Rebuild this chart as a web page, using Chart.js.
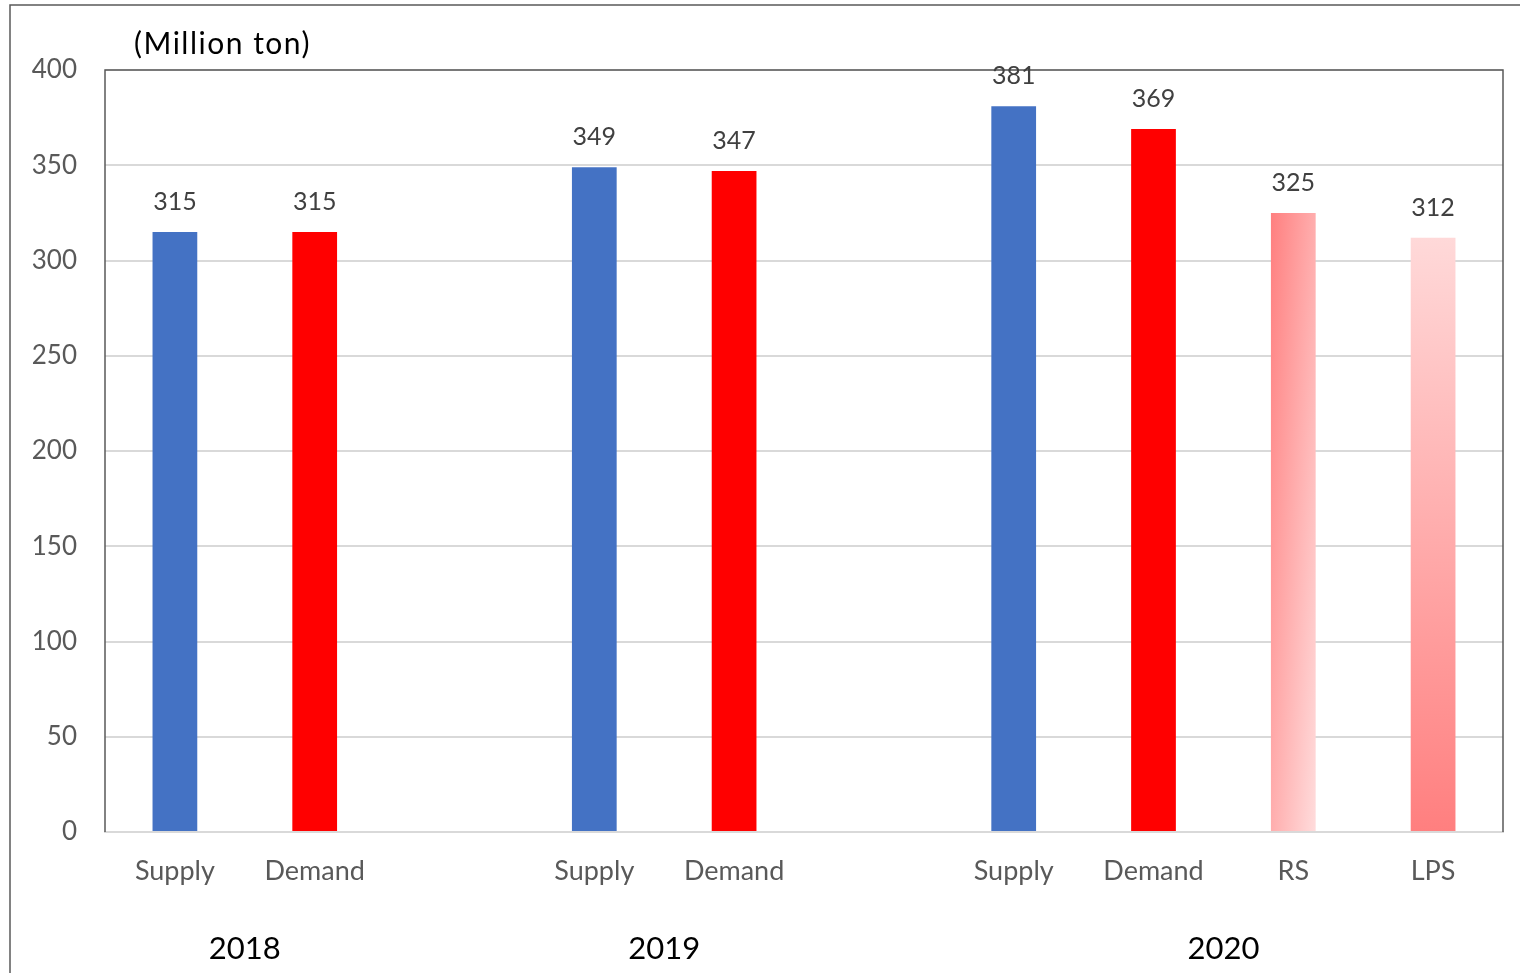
<!DOCTYPE html>
<html>
<head>
  <title>Supply and Demand</title>
  <script src="https://cdn.jsdelivr.net/npm/chart.js"></script>
  <style>
    body { margin: 0; background: #fff; }
    #wrap { width: 1520px; height: 973px; position: relative; }
  </style>
</head>
<body>
  <div id="wrap"><canvas id="myChart"></canvas></div>

  <script>
    // data
    const categories = ['Supply', 'Demand', '', 'Supply', 'Demand', '', 'Supply', 'Demand', 'RS', 'LPS'];
    const values = [315, 315, null, 349, 347, null, 381, 369, 325, 312];
    const years = ['2018', '2019', '2020'];
    const yearSpan = [[0, 1], [3, 4], [6, 9]];   // first and last category index under each year
    const yTicks = [0, 50, 100, 150, 200, 250, 300, 350, 400];
    const unitLabel = '(Million ton)';

    const FONT = 'Lato, "Open Sans", sans-serif';
    const barFrac = 0.32;

    function barColor(c) {
      const chart = c.chart;
      const i = c.dataIndex;
      const label = categories[i];
      if (label === 'Supply') return '#4472c4';
      if (label === 'Demand') return '#ff0000';
      const xs = chart.scales.x, ys = chart.scales.y;
      if (!chart.chartArea || !xs || !ys) return '#ffadad';
      const cx = xs.getPixelForValue(i);
      const half = xs.width / categories.length * barFrac / 2;
      const top = ys.getPixelForValue(values[i]);
      const bot = ys.getPixelForValue(0);
      if (![cx, half, top, bot].every(Number.isFinite)) return '#ffadad';
      const g2d = chart.ctx;
      let g;
      if (label === 'RS') {
        // diagonal: top-left dark, bottom-right light, width and height weigh the same
        const W = 2 * half, H = bot - top;
        const a = 1 / (1 / (4 * W * W) + 1 / (4 * H * H));
        const dx = a / (2 * W), dy = a / (2 * H);
        const x0 = cx - half;
        g = g2d.createLinearGradient(x0, top, x0 + dx, top + dy);
        g.addColorStop(0, '#ff7f7f');
        g.addColorStop(1, '#ffdcdc');
      } else {
        g = g2d.createLinearGradient(0, top, 0, bot);
        g.addColorStop(0, '#ffd9d9');
        g.addColorStop(1, '#ff7f7f');
      }
      return g;
    }

    const decor = {
      id: 'decor',
      beforeDraw(chart) {
        const c = chart.ctx;
        c.save();
        c.strokeStyle = '#595959';
        c.lineWidth = 1.5;
        c.beginPath();
        c.moveTo(10, 973);
        c.lineTo(10, 5);
        c.lineTo(1520, 5);
        c.stroke();
        c.restore();
      },
      afterDraw(chart) {
        const c = chart.ctx;
        const a = chart.chartArea;
        const xs = chart.scales.x;
        c.save();
        // plot frame: top, left, right
        c.strokeStyle = '#595959';
        c.lineWidth = 1.5;
        c.beginPath();
        c.moveTo(a.left, a.bottom);
        c.lineTo(a.left, a.top);
        c.lineTo(a.right, a.top);
        c.lineTo(a.right, a.bottom);
        c.stroke();

        // value labels
        c.fillStyle = '#404040';
        c.font = '25px ' + FONT;
        c.textAlign = 'center';
        c.textBaseline = 'alphabetic';
        chart.getDatasetMeta(0).data.forEach((el, i) => {
          if (values[i] == null) return;
          c.fillText(String(values[i]), el.x, el.y - 22);
        });

        // year labels
        c.fillStyle = '#000';
        c.font = '31px ' + FONT;
        years.forEach((y, k) => {
          const x = (xs.getPixelForValue(yearSpan[k][0]) + xs.getPixelForValue(yearSpan[k][1])) / 2;
          c.fillText(y, x, 959);
        });

        // unit label
        c.textAlign = 'left';
        c.font = '30px ' + FONT;
        c.letterSpacing = '1.5px';
        c.fillText(unitLabel, 134, 54);
        c.restore();
      }
    };

    const ctx = document.getElementById('myChart').getContext('2d');
    const myChart = new Chart(ctx, {
      type: 'bar',
      data: {
        labels: categories,
        datasets: [{
          data: values,
          backgroundColor: barColor,
          borderWidth: 0,
          categoryPercentage: 1,
          barPercentage: barFrac
        }]
      },
      options: {
        responsive: true,
        maintainAspectRatio: false,
        animation: false,
        layout: { padding: { left: 15, top: 70, right: 17, bottom: 0 } },
        plugins: {
          legend: { display: false },
          tooltip: { enabled: false }
        },
        scales: {
          x: {
            afterFit(scale) { scale.height = 141; },
            grid: { display: false, drawTicks: false },
            border: { display: true, color: '#d9d9d9', width: 2 },
            ticks: {
              color: '#595959',
              font: { family: FONT, size: 27 },
              padding: 23,
              maxRotation: 0,
              autoSkip: false
            }
          },
          y: {
            min: 0,
            max: 400,
            afterFit(scale) { scale.width = 90; },
            afterBuildTicks(scale) { scale.ticks = yTicks.map(v => ({ value: v })); },
            grid: { color: '#d9d9d9', lineWidth: 2, drawTicks: false },
            border: { display: false },
            ticks: {
              color: '#595959',
              font: { family: FONT, size: 26 },
              padding: 28
            }
          }
        }
      },
      plugins: [decor]
    });
  </script>
</body>
</html>
